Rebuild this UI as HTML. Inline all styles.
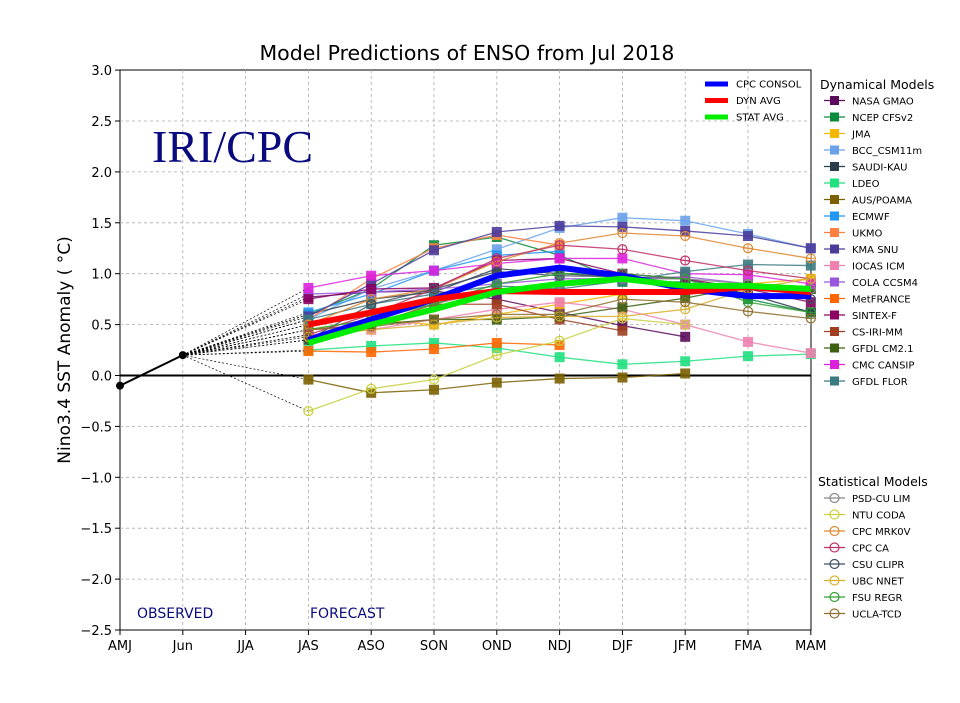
<!DOCTYPE html>
<html><head><meta charset="utf-8"><style>
body{margin:0;background:#fff;width:960px;height:699px;overflow:hidden;font-family:"DejaVu Sans","Liberation Sans",sans-serif}
</style></head><body>
<svg id="s" width="960" height="699" xmlns="http://www.w3.org/2000/svg" font-family="DejaVu Sans, Liberation Sans, sans-serif"></svg>
<script>
const s=document.getElementById('s');let h='';
const X=i=>120+i*62.8, Y=v=>375.5-v*101.8;
h+='<rect x="120" y="70" width="691" height="560" fill="#fff" stroke="#000" stroke-width="1"/>';
for(let i=1;i<11;i++)h+=`<line x1="${X(i)}" y1="70" x2="${X(i)}" y2="630" stroke="#aaa" stroke-dasharray="3,3" stroke-width="0.8"/>`;
for(let k=-5;k<=6;k++){const v=k*0.5,y=Y(v);if(k>-5&&k<6)h+=`<line x1="120" y1="${y}" x2="811" y2="${y}" stroke="#aaa" stroke-dasharray="3,3" stroke-width="0.8"/>`;
h+=`<line x1="115" y1="${y}" x2="120" y2="${y}" stroke="#000"/><text x="112" y="${y+5}" font-size="13" text-anchor="end">${v<0?'−':''}${Math.abs(v).toFixed(1)}</text>`;}
const lab=['AMJ','Jun','JJA','JAS','ASO','SON','OND','NDJ','DJF','JFM','FMA','MAM'];
lab.forEach((l,i)=>{h+=`<line x1="${X(i)}" y1="630" x2="${X(i)}" y2="635" stroke="#000"/><text x="${X(i)}" y="650" font-size="13" text-anchor="middle">${l}</text>`});
h+=`<text x="467" y="60" font-size="20.5" text-anchor="middle">Model Predictions of ENSO from Jul 2018</text>`;
h+=`<text transform="translate(70,350) rotate(-90)" font-size="17" text-anchor="middle">Nino3.4 SST Anomaly ( °C)</text>`;
h+=`<text x="152" y="162" font-size="46" fill="#0a0a80" font-family="Liberation Serif,serif">IRI/CPC</text>`;
h+=`<text x="137" y="618" font-size="14" fill="#0a0a80">OBSERVED</text><text x="310" y="618" font-size="14" fill="#0a0a80">FORECAST</text>`;
const D=[
['NASA GMAO','#5c0b5c',0,[0.77,0.82,0.83,0.75,0.62,0.49,0.38]],
['NCEP CFSv2','#0c8a3c',0,[0.6,0.85,1.28,1.36,1.18,0.92,0.92,0.75,0.62]],
['JMA','#f5b800',0,[0.45,0.55,0.5,0.6,0.7,0.8,0.85,0.9,0.95]],
['BCC_CSM11m','#6aa2ea',0,[0.55,0.85,1.03,1.24,1.45,1.55,1.52,1.39,1.25]],
['SAUDI-KAU','#2a3d4a',0,[0.6,0.75,0.82,1.05,1.0,0.97,0.95,0.8,0.62]],
['LDEO','#20e080',0,[0.25,0.29,0.32,0.27,0.18,0.11,0.14,0.19,0.21]],
['AUS/POAMA','#7a6000',0,[-0.04,-0.17,-0.14,-0.07,-0.03,-0.02,0.02]],
['ECMWF','#2196f3',0,[0.62,0.8,1.03,1.18,1.22]],
['UKMO','#ff8040',0,[0.55,0.95,1.25,1.38,1.28]],
['KMA SNU','#4b3c9c',0,[0.58,0.9,1.23,1.41,1.47,1.46,1.42,1.37,1.25]],
['IOCAS ICM','#f080b0',0,[0.4,0.45,0.55,0.65,0.72,0.65,0.5,0.33,0.22]],
['COLA CCSM4','#9955dd',0,[0.8,0.82,0.85,0.9,0.95,0.95,0.97,0.9,0.85]],
['MetFRANCE','#ff6600',0,[0.24,0.23,0.26,0.32,0.3]],
['SINTEX-F','#8b0060',0,[0.75,0.85,0.86,1.13,1.15,1.0,0.95,0.85,0.72]],
['CS-IRI-MM','#a04020',0,[0.45,0.5,0.7,0.7,0.55,0.44]],
['GFDL CM2.1','#3a6010',0,[0.35,0.5,0.55,0.55,0.58,0.67,0.76,0.88,0.85]],
['CMC CANSIP','#dd22dd',0,[0.86,0.98,1.03,1.1,1.15,1.15,1.0,0.99,0.9]],
['GFDL FLOR','#3a7a80',0,[0.55,0.7,0.8,0.88,0.85,0.93,1.02,1.09,1.08]],
['PSD-CU LIM','#888888',1,[0.5,0.6,0.7,0.85,0.9,0.95,0.95,0.9,0.85]],
['NTU CODA','#c8d040',1,[-0.35,-0.13,-0.04,0.2,0.34,0.56,0.5]],
['CPC MRK0V','#e08830',1,[0.5,0.75,0.85,1.12,1.3,1.4,1.37,1.25,1.15]],
['CPC CA','#c0306a',1,[0.4,0.6,0.85,1.15,1.28,1.24,1.13,1.03,0.95]],
['CSU CLIPR','#405060',1,[0.35,0.7,0.85,1.02,0.98,0.97,0.9,0.8,0.75]],
['UBC NNET','#d8b030',1,[0.38,0.45,0.5,0.57,0.58,0.58,0.65,0.85,0.95]],
['FSU REGR','#30a030',1,[0.45,0.55,0.7,0.9,1.0,1.0,0.95,0.72,0.62]],
['UCLA-TCD','#907030',1,[0.45,0.48,0.55,0.6,0.6,0.75,0.72,0.63,0.56]]];
D.forEach(d=>h+=`<line x1="${X(1)}" y1="${Y(0.2)}" x2="${X(3)}" y2="${Y(d[3][0])}" stroke="#000" stroke-width="0.7" stroke-dasharray="2,2"/>`);
h+=`<line x1="120" y1="${Y(0)}" x2="811" y2="${Y(0)}" stroke="#000" stroke-width="2"/>`;
const mk=(x,y,c,t)=>t?`<circle cx="${x}" cy="${y}" r="4.5" fill="none" stroke="${c}" stroke-width="1.2"/><line x1="${x-4}" y1="${y}" x2="${x+4}" y2="${y}" stroke="${c}" stroke-width="0.8"/><line x1="${x}" y1="${y-4}" x2="${x}" y2="${y+4}" stroke="${c}" stroke-width="0.8"/>`:`<rect x="${x-5}" y="${y-5}" width="10" height="10" fill="${c}" opacity="0.9"/>`;
D.forEach(d=>{const p=d[3].map((v,i)=>X(i+3)+','+Y(v)).join(' ');h+=`<polyline points="${p}" fill="none" stroke="${d[1]}" stroke-width="1.3" opacity="0.85"/>`;d[3].forEach((v,i)=>h+=mk(X(i+3),Y(v),d[1],d[2]))});
const A=[['#0000ff',[0.35,0.55,0.75,0.98,1.06,0.98,0.85,0.78,0.78]],['#ff0000',[0.5,0.62,0.75,0.83,0.82,0.82,0.82,0.87,0.82]],['#00ee00',[0.32,0.5,0.65,0.82,0.9,0.95,0.88,0.88,0.85]]];
A.forEach(a=>h+=`<polyline points="${a[1].map((v,i)=>X(i+3)+','+Y(v)).join(' ')}" fill="none" stroke="${a[0]}" stroke-width="6"/>`);
h+=`<polyline points="${X(0)},${Y(-0.1)} ${X(1)},${Y(0.2)}" stroke="#000" stroke-width="2" fill="none"/><circle cx="${X(0)}" cy="${Y(-0.1)}" r="4"/><circle cx="${X(1)}" cy="${Y(0.2)}" r="4"/>`;
[['CPC CONSOL','#0000ff'],['DYN AVG','#ff0000'],['STAT AVG','#00ee00']].forEach((l,i)=>{const y=84+i*16.5;h+=`<line x1="705" y1="${y}" x2="728" y2="${y}" stroke="${l[1]}" stroke-width="5"/><text x="736" y="${y+3.5}" font-size="10">${l[0]}</text>`});
h+=`<text x="820" y="89" font-size="12.5">Dynamical Models</text><text x="818" y="486" font-size="12.5">Statistical Models</text>`;
D.forEach((d,i)=>{const y=d[2]?498+(i-18)*16.5:100.5+i*16.5;h+=`<line x1="824" y1="${y}" x2="845" y2="${y}" stroke="${d[1]}" stroke-width="1.2"/>`+(d[2]?`<circle cx="834.5" cy="${y}" r="4.5" fill="none" stroke="${d[1]}" stroke-width="1.2"/>`:`<rect x="830" y="${y-4.5}" width="9" height="9" fill="${d[1]}"/>`)+`<text x="852" y="${y+4}" font-size="10">${d[0]}</text>`});
s.innerHTML=h;
</script>
</body></html>
